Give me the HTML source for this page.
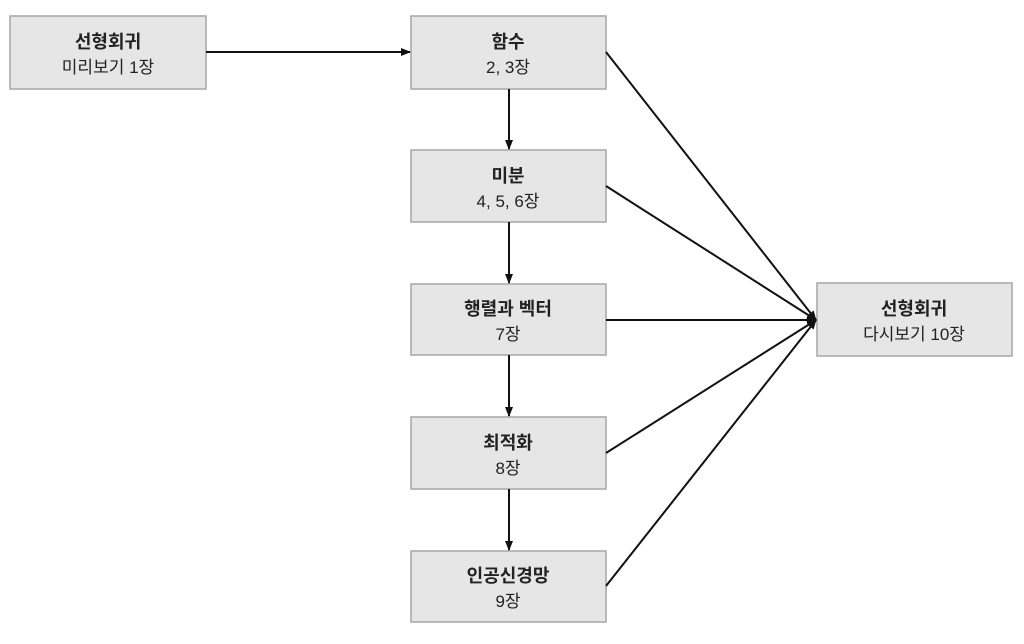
<!DOCTYPE html>
<html><head><meta charset="utf-8"><style>
body{margin:0;background:#fff;width:1024px;height:639px;overflow:hidden}
svg text{font-family:"Liberation Sans","Noto Sans CJK KR",sans-serif;fill:#222;text-anchor:middle}
.b{font-weight:bold;font-size:18px}
.n{font-size:17px}
rect{fill:#e6e6e6;stroke:#a6a6a6;stroke-width:1.5}
line{stroke:#111;stroke-width:2}
</style></head><body>
<svg width="1024" height="639" xmlns="http://www.w3.org/2000/svg">
<defs><marker id="a" markerWidth="10" markerHeight="8" refX="9" refY="4" orient="auto" markerUnits="userSpaceOnUse"><path d="M0,0 L10,4 L0,8 z" fill="#111"/></marker></defs>
<rect x="10" y="16" width="196" height="73"/>
<text class="b" x="108" y="48">선형회귀</text><text class="n" x="108" y="73">미리보기 1장</text>
<rect x="411" y="16" width="195" height="73"/>
<text class="b" x="508" y="48">함수</text><text class="n" x="508" y="73">2, 3장</text>
<rect x="411" y="150" width="195" height="72"/>
<text class="b" x="508" y="182">미분</text><text class="n" x="508" y="207">4, 5, 6장</text>
<rect x="411" y="284" width="195" height="71"/>
<text class="b" x="508" y="315">행렬과 벡터</text><text class="n" x="508" y="340">7장</text>
<rect x="411" y="417" width="195" height="72"/>
<text class="b" x="508" y="449">최적화</text><text class="n" x="508" y="474">8장</text>
<rect x="411" y="551" width="195" height="71"/>
<text class="b" x="508" y="582">인공신경망</text><text class="n" x="508" y="607">9장</text>
<rect x="817" y="283" width="195" height="73"/>
<text class="b" x="914" y="315">선형회귀</text><text class="n" x="914" y="340">다시보기 10장</text>
<line x1="206" y1="52" x2="410" y2="52" marker-end="url(#a)"/>
<line x1="509" y1="89" x2="509" y2="149" marker-end="url(#a)"/>
<line x1="509" y1="222" x2="509" y2="283" marker-end="url(#a)"/>
<line x1="509" y1="355" x2="509" y2="416" marker-end="url(#a)"/>
<line x1="509" y1="489" x2="509" y2="550" marker-end="url(#a)"/>
<line x1="606" y1="52" x2="816" y2="320" marker-end="url(#a)"/>
<line x1="606" y1="186" x2="816" y2="320" marker-end="url(#a)"/>
<line x1="606" y1="320" x2="816" y2="320" marker-end="url(#a)"/>
<line x1="606" y1="453" x2="816" y2="320" marker-end="url(#a)"/>
<line x1="606" y1="586" x2="816" y2="320" marker-end="url(#a)"/>
</svg>
</body></html>
